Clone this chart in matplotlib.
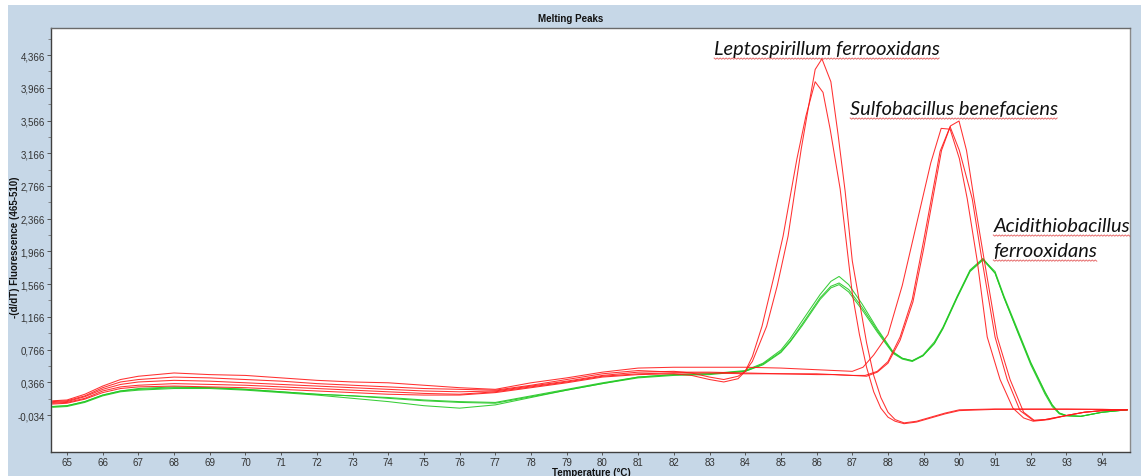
import numpy as np
import matplotlib
matplotlib.use("Agg")
import matplotlib.pyplot as plt
from matplotlib.lines import Line2D
from matplotlib.patches import Rectangle
from matplotlib.transforms import IdentityTransform
from matplotlib.ticker import FixedLocator

# shared low-temperature part of every melting curve
base_t = [64.6, 65, 65.5, 66, 66.5, 67, 68, 69, 70, 71, 72, 73, 74, 75, 76, 77, 78, 79, 80, 81, 82]

# Sulfobacillus benefaciens (3 replicates)
sb1_base = [0.14, 0.15, 0.22, 0.32, 0.40, 0.44, 0.48, 0.46, 0.45, 0.42, 0.39, 0.37, 0.36, 0.33, 0.30, 0.28, 0.36, 0.42, 0.49, 0.54, 0.55]
sb1_t = [83, 84, 85, 86, 86.5, 87.0, 87.3, 87.6, 88.0, 88.4, 88.8, 89.2, 89.49, 89.74, 90.0, 90.22, 90.5, 90.78, 91.14, 91.5, 91.8, 92.07, 92.5, 93.0, 93.5, 94.0, 94.7]
sb1_v = [0.55, 0.55, 0.54, 0.52, 0.51, 0.50, 0.55, 0.70, 0.95, 1.55, 2.30, 3.05, 3.47, 3.46, 3.10, 2.61, 1.85, 0.92, 0.40, 0.05, -0.07, -0.11, -0.09, -0.04, 0.0, 0.02, 0.03]

sb2_base = [0.13, 0.14, 0.20, 0.30, 0.37, 0.40, 0.43, 0.42, 0.40, 0.38, 0.35, 0.33, 0.31, 0.29, 0.28, 0.27, 0.33, 0.40, 0.47, 0.51, 0.49]
sb2_t = [83, 84, 85, 86, 86.5, 87.0, 87.36, 87.7, 88.0, 88.34, 88.68, 89.0, 89.46, 89.74, 90.0, 90.36, 90.6, 91.0, 91.34, 91.7, 92.07, 92.4, 93.0, 93.5, 94.0, 94.7]
sb2_v = [0.49, 0.48, 0.47, 0.47, 0.46, 0.45, 0.45, 0.50, 0.62, 0.92, 1.38, 2.10, 3.19, 3.49, 3.20, 2.61, 1.95, 0.92, 0.40, 0.02, -0.10, -0.09, -0.04, 0.0, 0.02, 0.03]

sb3_base = [0.11, 0.12, 0.17, 0.26, 0.31, 0.33, 0.35, 0.34, 0.33, 0.31, 0.29, 0.27, 0.25, 0.23, 0.22, 0.25, 0.31, 0.37, 0.44, 0.47, 0.48]
sb3_t = [83, 84, 85, 86, 86.5, 87.0, 87.4, 87.7, 88.0, 88.34, 88.7, 89.0, 89.5, 89.75, 89.99, 90.2, 90.41, 90.7, 91.06, 91.42, 91.8, 92.1, 92.4, 93.0, 93.5, 94.0, 94.7]
sb3_v = [0.48, 0.47, 0.47, 0.46, 0.46, 0.45, 0.44, 0.49, 0.60, 0.88, 1.35, 2.00, 3.20, 3.50, 3.56, 3.20, 2.61, 1.85, 0.92, 0.40, 0.00, -0.10, -0.09, -0.04, 0.0, 0.02, 0.03]

# Leptospirillum ferrooxidans (2 replicates)
lf1_base = [0.12, 0.13, 0.19, 0.28, 0.34, 0.37, 0.39, 0.38, 0.36, 0.34, 0.32, 0.30, 0.28, 0.26, 0.25, 0.26, 0.32, 0.38, 0.45, 0.49, 0.50]
lf1_t = [82.5, 83.0, 83.4, 83.8, 84.0, 84.2, 84.6, 84.9, 85.2, 85.57, 85.8, 85.96, 86.15, 86.4, 86.6, 86.8, 87.0, 87.2, 87.4, 87.6, 87.8, 88.0, 88.2, 88.45, 88.8, 89.2, 89.6, 90.0, 91.0, 92.0, 93.0, 94.0, 94.7]
lf1_v = [0.48, 0.43, 0.40, 0.44, 0.50, 0.62, 1.05, 1.55, 2.15, 3.22, 3.80, 4.19, 4.32, 4.04, 3.40, 2.70, 1.85, 1.35, 0.85, 0.45, 0.18, 0.00, -0.09, -0.13, -0.11, -0.06, -0.01, 0.03, 0.04, 0.04, 0.04, 0.035, 0.03]

lf2_base = [0.10, 0.11, 0.16, 0.24, 0.29, 0.31, 0.32, 0.31, 0.30, 0.28, 0.26, 0.24, 0.22, 0.21, 0.21, 0.24, 0.30, 0.36, 0.43, 0.46, 0.47]
lf2_t = [82.5, 83.0, 83.4, 83.8, 84.0, 84.2, 84.47, 84.8, 85.06, 85.45, 85.7, 85.96, 86.18, 86.38, 86.66, 87.0, 87.2, 87.4, 87.6, 87.8, 88.0, 88.2, 88.45, 88.8, 89.2, 89.6, 90.0, 91.0, 92.0, 93.0, 94.0, 94.7]
lf2_v = [0.45, 0.40, 0.37, 0.41, 0.50, 0.68, 1.05, 1.65, 2.15, 3.10, 3.62, 4.04, 3.91, 3.46, 2.73, 1.45, 0.95, 0.55, 0.25, 0.05, -0.06, -0.11, -0.14, -0.12, -0.07, -0.02, 0.02, 0.035, 0.035, 0.035, 0.035, 0.03]

# Acidithiobacillus ferrooxidans (3 replicates, double peak)
af_t = [83, 84, 84.5, 85.0, 85.26, 85.6, 86.1, 86.4, 86.63, 86.9, 87.28, 87.7, 88.14, 88.4, 88.68, 88.98, 89.3, 89.54, 89.94, 90.3, 90.66, 91.0, 91.25, 91.65, 92.0, 92.2, 92.4, 92.6, 92.8, 93.0, 93.4, 94.0, 94.7]
af1_base = [0.07, 0.08, 0.13, 0.21, 0.26, 0.28, 0.30, 0.30, 0.28, 0.25, 0.22, 0.20, 0.18, 0.15, 0.13, 0.12, 0.20, 0.28, 0.36, 0.43, 0.46]
af1_v = [0.47, 0.51, 0.60, 0.76, 0.90, 1.12, 1.44, 1.60, 1.66, 1.56, 1.32, 1.02, 0.74, 0.66, 0.63, 0.70, 0.86, 1.04, 1.42, 1.74, 1.88, 1.70, 1.40, 0.96, 0.58, 0.40, 0.22, 0.07, -0.02, -0.045, -0.05, 0.0, 0.03]
af2_base = [0.07, 0.08, 0.13, 0.21, 0.26, 0.29, 0.31, 0.30, 0.28, 0.25, 0.22, 0.20, 0.17, 0.14, 0.12, 0.11, 0.19, 0.27, 0.35, 0.42, 0.45]
af2_v = [0.46, 0.50, 0.59, 0.74, 0.87, 1.08, 1.40, 1.54, 1.58, 1.50, 1.28, 1.00, 0.73, 0.66, 0.63, 0.69, 0.84, 1.02, 1.40, 1.72, 1.86, 1.70, 1.40, 0.97, 0.60, 0.42, 0.24, 0.09, -0.01, -0.04, -0.05, 0.0, 0.03]
af3_base = [0.06, 0.07, 0.12, 0.20, 0.25, 0.27, 0.29, 0.29, 0.27, 0.24, 0.21, 0.17, 0.13, 0.08, 0.05, 0.09, 0.18, 0.27, 0.35, 0.43, 0.46]
af3_v = [0.47, 0.50, 0.58, 0.73, 0.86, 1.06, 1.38, 1.52, 1.56, 1.47, 1.25, 0.98, 0.72, 0.65, 0.62, 0.69, 0.84, 1.03, 1.41, 1.73, 1.87, 1.72, 1.42, 0.99, 0.61, 0.43, 0.25, 0.09, -0.01, -0.04, -0.05, 0.0, 0.03]

y_ticks = [-0.034, 0.366, 0.766, 1.166, 1.566, 1.966, 2.366, 2.766, 3.166, 3.566, 3.966, 4.366]
x_ticks = list(range(65, 95))

labels = [("Leptospirillum ferrooxidans", 83.13, 4.379),
          ("Sulfobacillus benefaciens", 86.94, 3.646),
          ("Acidithiobacillus", 90.95, 2.216),
          ("ferrooxidans", 90.95, 1.91)]

PANEL = "#c6d7e7"
RED = "#ff1a1a"
GREEN = "#22c822"

fig = plt.figure(figsize=(11.41, 4.77), dpi=100)
fig.patches.append(Rectangle((8 / 1141, 0), 1, 471 / 477, transform=fig.transFigure,
                             facecolor=PANEL, edgecolor="none", zorder=-10))
ax = fig.add_axes([51 / 1141, 24 / 477, 1079 / 1141, 424 / 477])
ax.set_facecolor("white")

greens = [(af1_base, af_t, af1_v), (af2_base, af_t, af2_v), (af3_base, af_t, af3_v)]
reds = [(sb1_base, sb1_t, sb1_v), (sb2_base, sb2_t, sb2_v), (sb3_base, sb3_t, sb3_v),
        (lf1_base, lf1_t, lf1_v), (lf2_base, lf2_t, lf2_v)]

for base, t, v in greens:
    ax.plot(base_t + t, base + v, color=GREEN, lw=0.75, alpha=0.9)
for base, t, v in reds:
    ax.plot(base_t + t, base + v, color=RED, lw=0.75, alpha=0.9)

ax.set_xlim(64.552, 94.78)
ax.set_ylim(-0.486, 4.697)

ax.xaxis.set_major_locator(FixedLocator(x_ticks))
ax.set_xticklabels([str(t) for t in x_ticks])
ax.yaxis.set_major_locator(FixedLocator(y_ticks))
ax.set_yticklabels([f"{t:.3f}".replace(".", ",") for t in y_ticks])
minor = np.array(y_ticks[:-1]) + 0.2
ax.yaxis.set_minor_locator(FixedLocator(list(minor) + [4.566]))

for lab in ax.get_xticklabels() + ax.get_yticklabels():
    lab.set_fontfamily("Liberation Sans")
    lab.set_fontsize(7)
ax.tick_params(axis="both", which="major", length=3, width=0.7, colors="#555555",
               labelcolor="#333333", pad=1.5)
ax.tick_params(axis="y", which="minor", length=2, width=0.6, colors="#777777")
ax.tick_params(axis="x", length=2, pad=1.5)

for side, col in [("left", "#404040"), ("bottom", "#404040"), ("top", "#6a6a6a"), ("right", "#8a8a8a")]:
    ax.spines[side].set_color(col)
    ax.spines[side].set_linewidth(1.0)

fig.text(0.5, 1 - 19 / 477, "Melting Peaks", ha="center", va="center",
         fontsize=7, fontweight="bold", family="Liberation Sans", color="#111111")
fig.text(591 / 1141, 1 - 473 / 477, "Temperature (\u00b0C)", ha="center", va="center",
         fontsize=7, fontweight="bold", family="Liberation Sans", color="#111111")
fig.text(15 / 1141, 1 - 247 / 477, "-(d/dT) Fluorescence (465-510)", ha="center", va="center",
         rotation=90, fontsize=7, fontweight="bold", family="Liberation Sans", color="#111111")

texts = []
for s, tx, ty in labels:
    texts.append(ax.text(tx, ty, s, ha="left", va="baseline", fontsize=14.4, style="italic",
                         family="Lato", color="#111111", clip_on=False))

# spell-check style wavy underline below each species name
fig.canvas.draw()
for txt in texts:
    bb = txt.get_window_extent()
    _, yb = ax.transData.transform(txt.get_position())
    xs = np.arange(bb.x0, bb.x1, 1.5)
    ys = yb - 4 - 1.2 * (np.arange(len(xs)) % 2)
    fig.add_artist(Line2D(xs, ys, transform=IdentityTransform(), color="#e04848",
                          lw=0.7, alpha=0.8))

fig.savefig("out.png", dpi=100, facecolor="white")
